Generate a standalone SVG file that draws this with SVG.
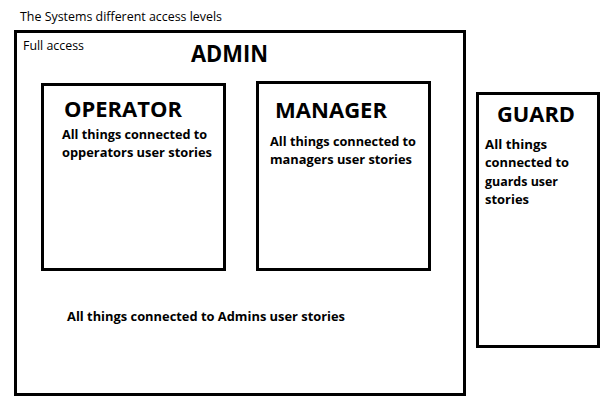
<svg xmlns="http://www.w3.org/2000/svg" width="605" height="403" viewBox="0 0 605 403">
<style>
.box{fill:#fff;stroke:#000;stroke-width:3}
.t{font-family:"Open Sans","Liberation Sans",sans-serif;fill:#000}
.b{font-weight:bold}
</style>
<rect width="605" height="403" fill="#fff"/>
<text class="t" x="20" y="21" font-size="13" textLength="202" lengthAdjust="spacingAndGlyphs">The Systems different access levels</text>
<g id="admin">
<rect class="box" x="15.5" y="31.5" width="449" height="363"/>
<text class="t" x="23" y="50" font-size="12" textLength="61" lengthAdjust="spacingAndGlyphs">Full access</text>
<text class="t b" x="191" y="62" font-size="23" textLength="77" lengthAdjust="spacingAndGlyphs">ADMIN</text>
<text class="t b" x="67" y="321" font-size="13" textLength="278" lengthAdjust="spacingAndGlyphs">All things connected to Admins user stories</text>
</g>
<g id="operator">
<rect class="box" x="42.5" y="84.5" width="182" height="185"/>
<text class="t b" x="64" y="117" font-size="22" textLength="118" lengthAdjust="spacingAndGlyphs">OPERATOR</text>
<text class="t b" x="62" y="139" font-size="13" textLength="145" lengthAdjust="spacingAndGlyphs">All things connected to</text>
<text class="t b" x="62" y="157" font-size="13" textLength="150" lengthAdjust="spacingAndGlyphs">opperators user stories</text>
</g>
<g id="manager">
<rect class="box" x="257.5" y="82.5" width="172" height="187"/>
<text class="t b" x="275" y="118" font-size="22" textLength="112" lengthAdjust="spacingAndGlyphs">MANAGER</text>
<text class="t b" x="270" y="146" font-size="13" textLength="146" lengthAdjust="spacingAndGlyphs">All things connected to</text>
<text class="t b" x="270" y="164" font-size="13" textLength="142" lengthAdjust="spacingAndGlyphs">managers user stories</text>
</g>
<g id="guard">
<rect class="box" x="477.5" y="93.5" width="121" height="253"/>
<text class="t b" x="497" y="122" font-size="22" textLength="78" lengthAdjust="spacingAndGlyphs">GUARD</text>
<text class="t b" x="485" y="149" font-size="13" textLength="62" lengthAdjust="spacingAndGlyphs">All things</text>
<text class="t b" x="485" y="167" font-size="13" textLength="84" lengthAdjust="spacingAndGlyphs">connected to</text>
<text class="t b" x="485" y="186" font-size="13" textLength="73" lengthAdjust="spacingAndGlyphs">guards user</text>
<text class="t b" x="485" y="204" font-size="13" textLength="44" lengthAdjust="spacingAndGlyphs">stories</text>
</g>
<g id="connectors"/>
</svg>
